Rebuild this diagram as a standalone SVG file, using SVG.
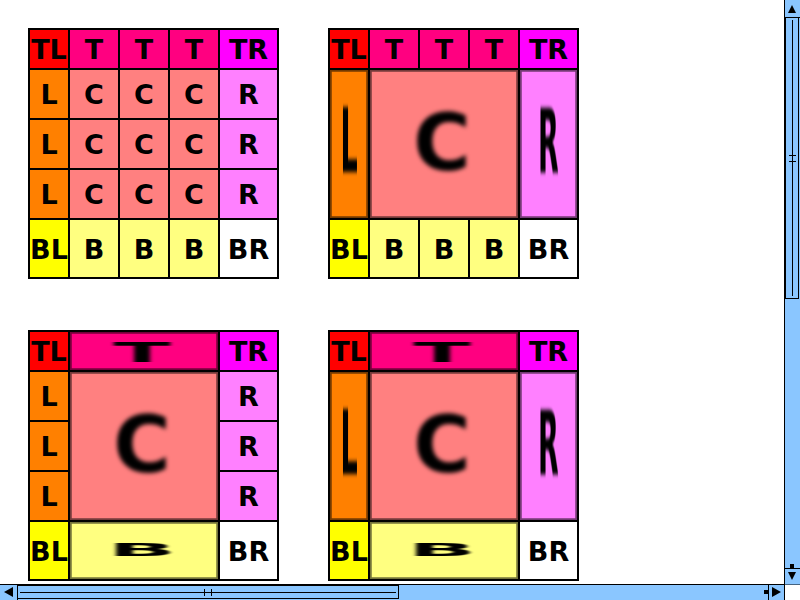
<svg xmlns="http://www.w3.org/2000/svg" width="800" height="600" viewBox="0 0 800 600">
<defs>
<style>
.g{stroke:#000;stroke-width:2}
.tl{fill:#ff0000}.t{fill:#ff0080}.tr{fill:#ff00ff}
.l{fill:#ff8000}.c{fill:#ff8080}.r{fill:#ff80ff}
.bl{fill:#ffff00}.b{fill:#ffff80}.br{fill:#ffffff}
.k{font-family:"DejaVu Sans","Liberation Sans",sans-serif;font-weight:bold;font-size:27px;text-anchor:middle;fill:#000}
.s{filter:url(#soft)}
.e{fill:none;stroke:#000;stroke-opacity:.55;stroke-width:2.5;filter:url(#soft)}
.sb{fill:#8ac6ff;stroke:#000;stroke-width:1}
.ln{stroke:#000;stroke-width:1;fill:none}
</style>
<filter id="soft" x="-10%" y="-10%" width="120%" height="120%"><feGaussianBlur stdDeviation="0.7"/></filter>
<g id="rowTop">
<rect class="g tl" x="29" y="29" width="40" height="40"/><text class="k" x="49" y="59">TL</text>
<rect class="g tr" x="219" y="29" width="59" height="40"/><text class="k" x="248.5" y="59">TR</text>
</g>
<g id="rowBot">
<rect class="g bl" x="29" y="219" width="40" height="59"/><text class="k" x="49" y="258.5">BL</text>
<rect class="g br" x="219" y="219" width="59" height="59"/><text class="k" x="248.5" y="258.5">BR</text>
</g>
<g id="tRep">
<rect class="g t" x="69" y="29" width="50" height="40"/><text class="k" x="94" y="59">T</text>
<rect class="g t" x="119" y="29" width="50" height="40"/><text class="k" x="144" y="59">T</text>
<rect class="g t" x="169" y="29" width="50" height="40"/><text class="k" x="194" y="59">T</text>
</g>
<g id="bRep">
<rect class="g b" x="69" y="219" width="50" height="59"/><text class="k" x="94" y="258.5">B</text>
<rect class="g b" x="119" y="219" width="50" height="59"/><text class="k" x="144" y="258.5">B</text>
<rect class="g b" x="169" y="219" width="50" height="59"/><text class="k" x="194" y="258.5">B</text>
</g>
<g id="lRep">
<rect class="g l" x="29" y="69" width="40" height="50"/><text class="k" x="49" y="104">L</text>
<rect class="g l" x="29" y="119" width="40" height="50"/><text class="k" x="49" y="154">L</text>
<rect class="g l" x="29" y="169" width="40" height="50"/><text class="k" x="49" y="204">L</text>
</g>
<g id="rRep">
<rect class="g r" x="219" y="69" width="59" height="50"/><text class="k" x="248.5" y="104">R</text>
<rect class="g r" x="219" y="119" width="59" height="50"/><text class="k" x="248.5" y="154">R</text>
<rect class="g r" x="219" y="169" width="59" height="50"/><text class="k" x="248.5" y="204">R</text>
</g>
<g id="tStr">
<rect class="t" x="69" y="29" width="150" height="40"/>
<rect class="e" x="70.5" y="30.5" width="147" height="37"/>
<text class="k s" transform="translate(142,50) scale(3.1,1)" y="9.8">T</text>
<rect class="g" fill="none" x="69" y="29" width="150" height="40"/>
</g>
<g id="bStr">
<rect class="b" x="69" y="219" width="150" height="59"/>
<rect class="e" x="70.5" y="220.5" width="147" height="56"/>
<text class="k s" transform="translate(142,248) scale(3.3,0.65)" y="9.8">B</text>
<rect class="g" fill="none" x="69" y="219" width="150" height="59"/>
</g>
<g id="lStr">
<rect class="l" x="29" y="69" width="40" height="150"/>
<rect class="e" x="30.5" y="70.5" width="37" height="147"/>
<text class="k s" transform="translate(49,140) scale(1,3.3)" y="9.8">L</text>
<rect class="g" fill="none" x="29" y="69" width="40" height="150"/>
</g>
<g id="rStr">
<rect class="r" x="219" y="69" width="59" height="150"/>
<rect class="e" x="220.5" y="70.5" width="56" height="147"/>
<text class="k s" transform="translate(248.5,141) scale(1,3.3)" y="9.8">R</text>
<rect class="g" fill="none" x="219" y="69" width="59" height="150"/>
</g>
<g id="cStr">
<rect class="c" x="69" y="69" width="150" height="150"/>
<rect class="e" x="70.5" y="70.5" width="147" height="147"/>
<text class="k s" transform="translate(142,142) scale(2.9,2.9)" y="9.8">C</text>
<rect class="g" fill="none" x="69" y="69" width="150" height="150"/>
</g>
</defs>

<rect x="0" y="0" width="800" height="600" fill="#ffffff"/>

<g id="box1">
<use href="#tRep"/><use href="#bRep"/><use href="#lRep"/><use href="#rRep"/>
<rect class="g c" x="69" y="69" width="50" height="50"/><text class="k" x="94" y="104">C</text>
<rect class="g c" x="119" y="69" width="50" height="50"/><text class="k" x="144" y="104">C</text>
<rect class="g c" x="169" y="69" width="50" height="50"/><text class="k" x="194" y="104">C</text>
<rect class="g c" x="69" y="119" width="50" height="50"/><text class="k" x="94" y="154">C</text>
<rect class="g c" x="119" y="119" width="50" height="50"/><text class="k" x="144" y="154">C</text>
<rect class="g c" x="169" y="119" width="50" height="50"/><text class="k" x="194" y="154">C</text>
<rect class="g c" x="69" y="169" width="50" height="50"/><text class="k" x="94" y="204">C</text>
<rect class="g c" x="119" y="169" width="50" height="50"/><text class="k" x="144" y="204">C</text>
<rect class="g c" x="169" y="169" width="50" height="50"/><text class="k" x="194" y="204">C</text>
<use href="#rowTop"/><use href="#rowBot"/>
</g>

<g id="box2" transform="translate(300,0)">
<use href="#tRep"/><use href="#bRep"/>
<use href="#lStr"/><use href="#cStr"/><use href="#rStr"/>
<use href="#rowTop"/><use href="#rowBot"/>
</g>

<g id="box3" transform="translate(0,302)">
<use href="#tStr"/><use href="#bStr"/>
<use href="#lRep"/><use href="#rRep"/><use href="#cStr"/>
<use href="#rowTop"/><use href="#rowBot"/>
</g>

<g id="box4" transform="translate(300,302)">
<use href="#tStr"/><use href="#bStr"/>
<use href="#lStr"/><use href="#cStr"/><use href="#rStr"/>
<use href="#rowTop"/><use href="#rowBot"/>
</g>

<g id="vscroll">
<rect class="sb" x="784.5" y="-1" width="16" height="586"/>
<line class="ln" x1="784.5" y1="17.5" x2="800" y2="17.5"/>
<polygon points="792,5 788,13 796,13" fill="#000"/>
<rect class="sb" x="785.5" y="17.5" width="13" height="281"/>
<line class="ln" x1="792.5" y1="20" x2="792.5" y2="296"/>
<line class="ln" x1="789" y1="155.5" x2="796" y2="155.5"/>
<line class="ln" x1="789" y1="161.5" x2="796" y2="161.5"/>
<line class="ln" x1="784.5" y1="568.5" x2="800" y2="568.5"/>
<rect x="790" y="564" width="4" height="4" fill="#000"/>
<polygon points="788,572 796,572 792,580" fill="#000"/>
</g>

<g id="hscroll">
<rect class="sb" x="-1" y="584.5" width="785.5" height="16"/>
<line class="ln" x1="17.5" y1="584.5" x2="17.5" y2="600"/>
<polygon points="4,592 13,587 13,597" fill="#000"/>
<rect class="sb" x="17.5" y="585.5" width="381" height="13"/>
<line class="ln" x1="20" y1="592.5" x2="396" y2="592.5"/>
<line class="ln" x1="204.5" y1="589" x2="204.5" y2="596"/>
<line class="ln" x1="211.5" y1="589" x2="211.5" y2="596"/>
<line class="ln" x1="768.5" y1="584.5" x2="768.5" y2="600"/>
<rect x="764" y="590" width="4" height="4" fill="#000"/>
<polygon points="772,587 781,592 772,597" fill="#000"/>
</g>
<rect x="785" y="585" width="15" height="15" fill="#ffffff"/>
</svg>
